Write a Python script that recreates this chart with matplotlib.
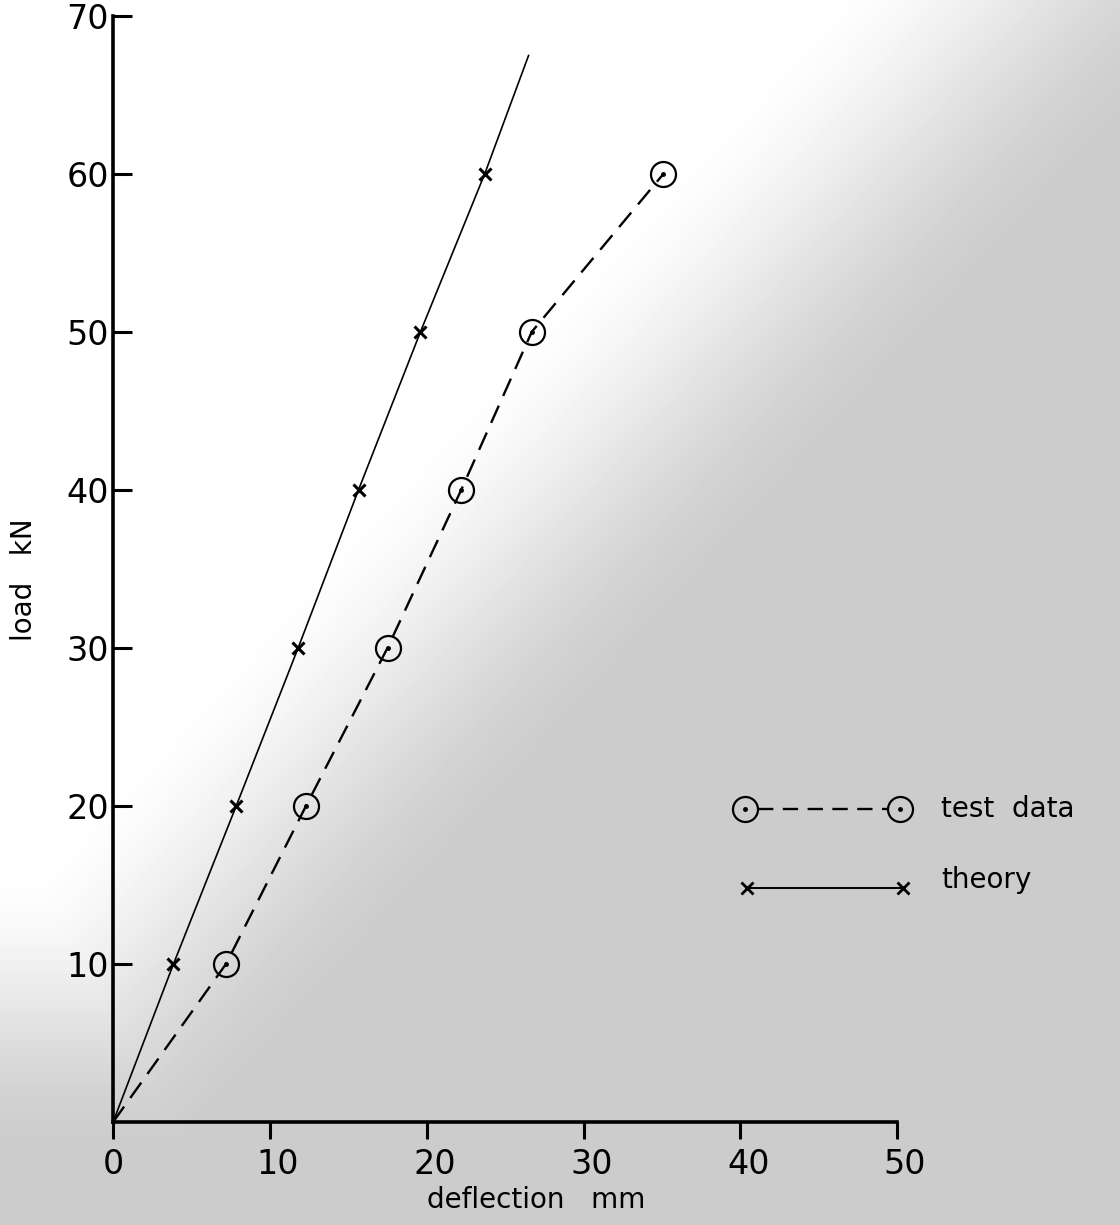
import numpy as np
import matplotlib
matplotlib.use('Agg')
import matplotlib.pyplot as plt
from matplotlib.transforms import ScaledTranslation

# valores
theory_x = [0, 3.85, 7.85, 11.8, 15.65, 19.6, 23.7, 26.5]
theory_y = [0, 10, 20, 30, 40, 50, 60, 67.5]
theory_mark = [False, True, True, True, True, True, True, False]

test_x = [0, 7.2, 12.3, 17.5, 22.2, 26.7, 35.1]
test_y = [0, 10, 20, 30, 40, 50, 60]

x_ticks = [0, 10, 20, 30, 40, 50]
y_ticks = [10, 20, 30, 40, 50, 60, 70]

# legenda desenhada em coordenadas de dados
leg_test_x = [40.3, 50.2]
leg_test_y = [19.8, 19.8]
leg_test_line_x = [41.1, 49.4]
leg_theory_x = [40.4, 50.4]
leg_theory_y = [14.8, 14.8]

plt.rcParams['font.family'] = ['DejaVu Sans']

fig = plt.figure(figsize=(11.2, 12.25), dpi=100)

# fundo cinzento do papel digitalizado
bg = fig.add_axes([0, 0, 1, 1], zorder=-10)
u, v = np.meshgrid(np.linspace(0, 1, 224), np.linspace(0, 1, 245))
t1 = np.clip((u + v - 0.72) / 0.4, 0, 1)
t2 = np.clip((v - 0.7) / 0.25, 0, 1)
t = np.maximum(t1, t2)
t = t * t * (3 - 2 * t)
gray = 1 - 0.2 * t
bg.imshow(gray, cmap='gray', vmin=0, vmax=1, aspect='auto',
          extent=[0, 1, 1, 0], interpolation='bilinear')
bg.set_xlim(0, 1)
bg.set_ylim(1, 0)
bg.axis('off')

ax = fig.add_axes([0.101, 0.0841, 0.70, 0.903])
ax.set_facecolor('none')
ax.set_xlim(0, 50)
ax.set_ylim(0, 70)

# curva teorica
ax.plot(theory_x, theory_y, color='black', lw=1.2, solid_capstyle='round')
mx = [x for x, m in zip(theory_x, theory_mark) if m]
my = [y for y, m in zip(theory_y, theory_mark) if m]
ax.plot(mx, my, ls='none', marker='x', ms=8, mew=2.2, color='black')

# dados de ensaio
ax.plot(test_x, test_y, color='black', lw=1.7, dashes=(8, 4.5))
ax.plot(test_x[1:], test_y[1:], ls='none', marker='o', ms=18, mew=1.6,
        mfc='none', mec='black')
ax.plot(test_x[1:], test_y[1:], ls='none', marker='o', ms=2.5, color='black')

# legenda
ax.plot(leg_test_line_x, leg_test_y, color='black', lw=1.7, dashes=(6.5, 4),
        clip_on=False)
ax.plot(leg_test_x, leg_test_y, ls='none', marker='o', ms=18, mew=1.6,
        mfc='none', mec='black', clip_on=False)
ax.plot(leg_test_x, leg_test_y, ls='none', marker='o', ms=2.5,
        color='black', clip_on=False)
ax.text(52.8, leg_test_y[0], 'test  data', fontsize=20, va='center',
        ha='left', clip_on=False)

ax.plot(leg_theory_x, leg_theory_y, color='black', lw=1.4, clip_on=False)
ax.plot(leg_theory_x, leg_theory_y, ls='none', marker='x', ms=8, mew=2,
        color='black', clip_on=False)
ax.text(52.8, leg_theory_y[0] + 0.5, 'theory', fontsize=20, va='center',
        ha='left', clip_on=False)

# eixos
for s in ['top', 'right']:
    ax.spines[s].set_visible(False)
for s in ['left', 'bottom']:
    ax.spines[s].set_linewidth(2.6)

ax.set_xticks(x_ticks)
ax.set_xticklabels([str(v) for v in x_ticks])
ax.set_yticks(y_ticks)
ax.set_yticklabels([str(v) for v in y_ticks])
ax.tick_params(axis='x', direction='out', length=12, width=2.2,
               labelsize=24, pad=7)
ax.tick_params(axis='y', direction='in', length=14, width=2.2,
               labelsize=24, pad=3)

# rotulos do eixo x ligeiramente a direita dos tracos
shift = ScaledTranslation(8 / 100, 0, fig.dpi_scale_trans)
for lbl in ax.get_xticklabels()[1:]:
    lbl.set_transform(lbl.get_transform() + shift)

ax.set_xlabel('deflection   mm', fontsize=20)
ax.xaxis.set_label_coords(0.54, -0.058)
ax.set_ylabel('load   kN', fontsize=20)
ax.yaxis.set_label_coords(-0.096, 0.49)

fig.savefig('out.png', dpi=100)
